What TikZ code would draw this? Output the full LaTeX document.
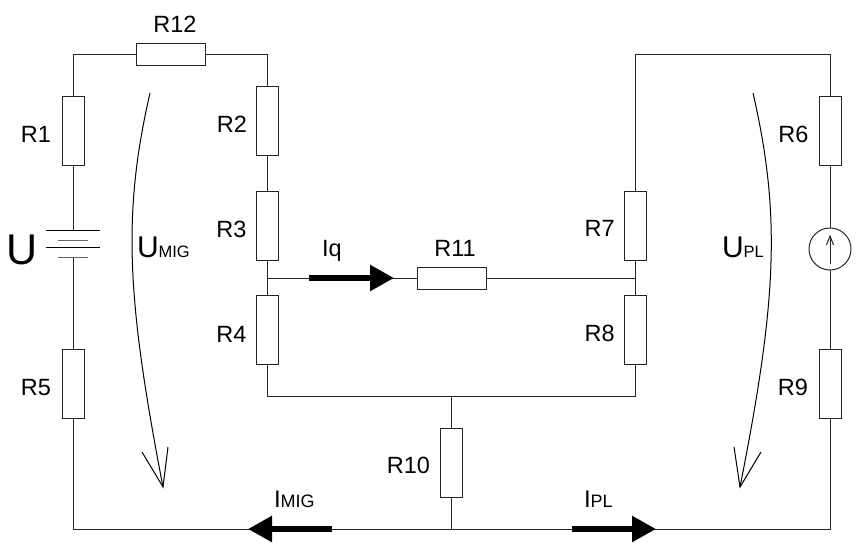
\documentclass[tikz,border=0pt]{standalone}
\usepackage{fontspec}
\setmainfont{Liberation Sans}
\usetikzlibrary{arrows.meta}
\newcommand{\lbl}[1]{{\fontsize{23.5}{25}\selectfont #1}}
\newcommand{\subl}[4]{{\fontsize{#1}{32}\selectfont #3}{\fontsize{#2}{18}\selectfont #4}}
\tikzset{
 x=1pt,y=-1pt,
 wire/.style={line width=1pt,black!85},
 resv/.style={draw=black!85,line width=1pt,fill=white,minimum width=22pt,minimum height=69pt,inner sep=0pt,outer sep=0pt},
 resh/.style={draw=black!85,line width=1pt,fill=white,minimum width=69pt,minimum height=22pt,inner sep=0pt,outer sep=0pt},
 txt/.style={inner sep=0pt,outer sep=0pt,anchor=base},
 txtl/.style={inner sep=0pt,outer sep=0pt,anchor=base west},
 thick arrow/.style={line width=5.5pt,-{Triangle[length=24pt,width=25pt,sep=0pt]}},
 volt/.style={line width=1pt,black},
}
\begin{document}
\begin{tikzpicture}
\useasboundingbox (0,0) rectangle (867,542);
% corner and junction points
\coordinate (tl) at (73.5,54.5);
\coordinate (tm) at (267.5,54.5);
\coordinate (tr1) at (635.7,54.5);
\coordinate (tr2) at (830,54.5);
\coordinate (bl) at (73.5,529);
\coordinate (br) at (830,529);
\coordinate (bm) at (451.5,529);
\coordinate (jl) at (267.5,278);
\coordinate (jr) at (635.7,278);
\coordinate (ml) at (267.5,396);
\coordinate (mr) at (635.7,396);
\coordinate (mm) at (451.5,396);
\coordinate (b1) at (73.5,230);
\coordinate (b2) at (73.5,257);
% components
\node[resv] (R1) at (73.5,130.5) {};
\node[resv] (R5) at (73.5,384) {};
\node[resh] (R12) at (170.5,54.5) {};
\node[resv] (R2) at (267.5,121) {};
\node[resv] (R3) at (267.5,225.5) {};
\node[resv] (R4) at (267.5,330) {};
\node[resh] (R11) at (451.5,278) {};
\node[resv] (R7) at (635.7,225.5) {};
\node[resv] (R8) at (635.7,330) {};
\node[resv] (R10) at (451.5,462.5) {};
\node[resv] (R6) at (830,130.5) {};
\node[resv] (R9) at (830,384) {};
\node[circle,draw=black!85,line width=1pt,minimum size=42pt,inner sep=0pt,outer sep=0pt] (S) at (830,249) {};
% wires
\draw[wire] (R1.south) -- (b1);
\draw[wire] (b2) -- (R5.north);
\draw[wire] (R5.south) -- (bl) -- (br) -- (R9.south);
\draw[wire] (R1.north) -- (tl) -- (R12.west);
\draw[wire] (R12.east) -- (tm) -- (R2.north);
\draw[wire] (R2.south) -- (R3.north);
\draw[wire] (R3.south) -- (R4.north);
\draw[wire] (jl) -- (R11.west);
\draw[wire] (R11.east) -- (jr);
\draw[wire] (R4.south) -- (ml) -- (mr) -- (R8.south);
\draw[wire] (R8.north) -- (R7.south);
\draw[wire] (R7.north) -- (tr1) -- (tr2) -- (R6.north);
\draw[wire] (R6.south) -- (S.north);
\draw[wire] (S.south) -- (R9.north);
\draw[wire] (mm) -- (R10.north);
\draw[wire] (R10.south) -- (bm);
% source inner arrow
\draw[wire] (830,264) -- (830,236);
\draw[wire] (826.5,245) -- (830,236) -- (833.5,245);
% battery
\draw[line width=1pt,black] (46,230) -- (100,230);
\draw[line width=1pt,black!60] (58,240) -- (88,240);
\draw[line width=1pt,black] (46,247) -- (100,247);
\draw[line width=1pt,black!60] (58,257) -- (88,257);
% voltage arrows
\draw[volt] (150,93) .. controls (122,215) and (127,300) .. (163,487);
\draw[volt] (142,452) -- (163,487) -- (168,447);
\draw[volt] (753,93) .. controls (781,215) and (777,300) .. (740,487);
\draw[volt] (734,447) -- (740,487) -- (761,452);
% current arrows
\draw[thick arrow] (309,278) -- (394,278);
\draw[thick arrow] (332,529) -- (248,529);
\draw[thick arrow] (572,529) -- (656,529);
% labels
\node[txt] (t12) at (175,32) {\lbl{R12}};
\node[txt] (t1) at (36,142) {\lbl{R1}};
\node[txt] (t5) at (36,395) {\lbl{R5}};
\node[txt] (t2) at (232,132) {\lbl{R2}};
\node[txt] (t3) at (231.5,237) {\lbl{R3}};
\node[txt] (t4) at (231.5,342) {\lbl{R4}};
\node[txt] (t7) at (599.7,236) {\lbl{R7}};
\node[txt] (t8) at (599.7,341) {\lbl{R8}};
\node[txt] (t6) at (793.5,142) {\lbl{R6}};
\node[txt] (t9) at (793,395) {\lbl{R9}};
\node[txt] (t10) at (408.5,473) {\lbl{R10}};
\node[txt] (t11) at (455,256) {\lbl{R11}};
\node[txt] (tq) at (332,256) {\lbl{Iq}};
\node[txt] (tU) at (22.5,264.5) {\fontsize{43}{46}\selectfont U};
\node[txtl] (tum) at (137,257) {\subl{30}{16.5}{U}{MIG}};
\node[txtl] (tup) at (722,257) {\subl{30}{16.5}{U}{PL}};
\node[txtl] (tim) at (274,507) {\subl{24}{18}{I}{MIG}};
\node[txtl] (tip) at (584,507) {\subl{24}{18}{I}{PL}};
\end{tikzpicture}
\end{document}
